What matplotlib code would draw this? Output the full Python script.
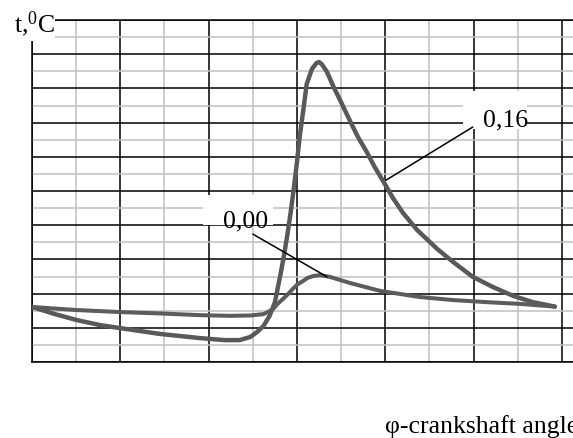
import numpy as np
import matplotlib.pyplot as plt
from matplotlib.patches import Rectangle

# crankshaft angle and temperature, in grid units (1 unit = one major cell)
angle_016 = [0.00, 0.26, 0.50, 0.77, 1.00, 1.45, 1.90, 2.18, 2.35, 2.47, 2.55,
             2.62, 2.69, 2.75, 2.785, 2.82, 2.855, 2.89, 2.93, 2.965, 3.00,
             3.03, 3.07, 3.11, 3.17, 3.22, 3.25, 3.28, 3.34, 3.41, 3.51, 3.60,
             3.69, 3.79, 3.88, 4.00, 4.09, 4.20, 4.36, 4.59, 4.77, 4.99, 5.22,
             5.45, 5.67, 5.92]
temp_016 = [1.61, 1.40, 1.23, 1.08, 0.99, 0.82, 0.70, 0.64, 0.64, 0.73, 0.88,
            1.05, 1.35, 1.75, 2.20, 2.65, 3.15, 3.70, 4.40, 5.10, 5.85,
            6.58, 7.34, 8.13, 8.57, 8.74, 8.77, 8.71, 8.48, 8.07, 7.54, 7.05,
            6.58, 6.14, 5.70, 5.18, 4.78, 4.36, 3.86, 3.30, 2.92, 2.49, 2.19,
            1.93, 1.75, 1.62]

angle_000 = [0.00, 0.50, 1.00, 1.45, 1.90, 2.24, 2.47, 2.62, 2.67, 2.73, 2.78,
             2.84, 2.90, 2.95, 3.01, 3.07, 3.12, 3.18, 3.26, 3.37, 3.60, 3.94,
             4.39, 4.77, 5.15, 5.52, 5.92]
temp_000 = [1.61, 1.52, 1.46, 1.42, 1.37, 1.35, 1.36, 1.40, 1.46, 1.55, 1.70,
            1.84, 1.99, 2.13, 2.28, 2.37, 2.46, 2.51, 2.54, 2.49, 2.31, 2.08,
            1.90, 1.81, 1.75, 1.70, 1.62]

W, H = 573, 439
plt.rcParams['mathtext.fontset'] = 'custom'
plt.rcParams['mathtext.rm'] = 'Liberation Serif'
font = dict(family='Liberation Serif', size=18.5, color='black')


def fpos(x, y):
    # pixel position -> figure fraction
    return x / W, 1 - y / H


def white_box(x0, y0, x1, y1):
    ax.add_patch(Rectangle(fpos(x0, y1), (x1 - x0) / W, (y1 - y0) / H,
                           transform=fig.transFigure, facecolor='white',
                           edgecolor='none', zorder=3, clip_on=False))


fig = plt.figure(figsize=(W / 100, H / 100), dpi=100)
ax = fig.add_axes([32 / W, 1 - 363 / H, 1 - 32 / W, 342 / H])
ax.set_xlim(0, (W - 32) / 88.33)
ax.set_ylim(0, 10)

# grid: black majors, grey minors
ax.set_xticks(np.arange(0, 7, 1))
ax.set_xticks(np.arange(0.5, 6.5, 1), minor=True)
ax.set_yticks(np.arange(0, 11, 1))
ax.set_yticks(np.arange(0.5, 10, 1), minor=True)
ax.grid(which='minor', color='#c0c0c0', lw=1.1)
ax.grid(which='major', color='black', lw=1.1)
ax.set_axisbelow(True)
ax.tick_params(which='both', length=0, labelbottom=False, labelleft=False)
for side in ['left', 'top', 'bottom']:
    ax.spines[side].set_linewidth(1.1)
ax.spines['right'].set_visible(False)

ax.plot(angle_016, temp_016, color='#595959', lw=3.2, zorder=4,
        solid_joinstyle='round', solid_capstyle='round')
ax.plot(angle_000, temp_000, color='#5c5c5c', lw=2.9, zorder=4,
        solid_joinstyle='round', solid_capstyle='round')

# labels with white backgrounds and leader lines
white_box(0, 0, 55, 42)
fig.text(*fpos(14, 32), r't,$\mathregular{^0}$C', va='baseline', zorder=5, **font)

white_box(463, 92, 527, 130)
fig.text(*fpos(483, 126), '0,16', va='baseline', zorder=5, **font)
ax.annotate('', xy=(4.01, 5.32), xytext=(4.99, 6.87),
            arrowprops=dict(arrowstyle='-', color='black', lw=1.1,
                            shrinkA=0, shrinkB=0), zorder=5)

white_box(203, 196, 273, 226)
fig.text(*fpos(223, 227), '0,00', va='baseline', zorder=5, **font)
ax.annotate('', xy=(3.34, 2.49), xytext=(2.50, 3.74),
            arrowprops=dict(arrowstyle='-', color='black', lw=1.1,
                            shrinkA=0, shrinkB=0), zorder=5)

fig.text(*fpos(385, 433), 'φ-crankshaft angle', va='baseline', **font)

fig.savefig('out.png', dpi=100)
